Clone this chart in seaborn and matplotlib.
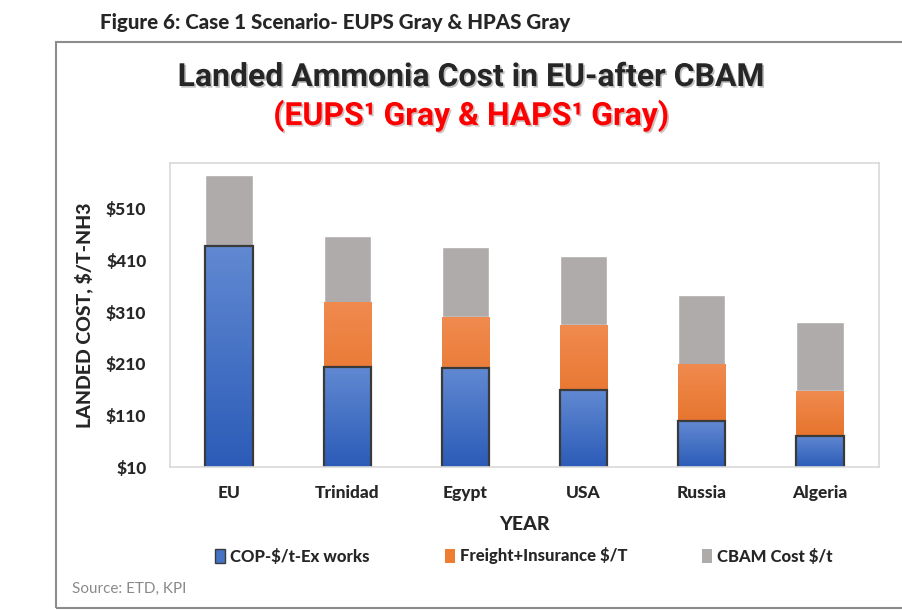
import matplotlib
matplotlib.use("Agg")
import matplotlib.pyplot as plt
import matplotlib.patheffects as pe
from matplotlib.colors import LinearSegmentedColormap, to_hex
from matplotlib.patches import Rectangle, Patch
import numpy as np
import pandas as pd
import seaborn as sns

sns.set_style("white")
plt.rcParams['font.family'] = ['Lato', 'DejaVu Sans']

countries = ['EU', 'Trinidad', 'Egypt', 'USA', 'Russia', 'Algeria']
cop = [439, 204, 202, 159, 99, 71]
freight = [0, 124, 98, 126, 109, 86]
cbam = [136, 130, 137, 133, 136, 133]

df = pd.DataFrame({'Country': countries, 'COP': cop, 'Freight': freight, 'CBAM': cbam})
df['lvl1'] = df['COP']
df['lvl2'] = df['COP'] + df['Freight']
df['lvl3'] = df['lvl2'] + df['CBAM']

blue = '#4472c4'
orange = '#ed7d31'
grey = '#afabab'
W = 900  # heavy, closer to calibri bold

fig = plt.figure(figsize=(9.02, 6.10), dpi=100)
ax = fig.add_axes([170/902, 1-467/610, 709/902, 304/610])

# stacked from the top down, each layer hides the one beneath
sns.barplot(data=df, x='Country', y='lvl3', color=grey, width=0.4, saturation=1, ax=ax)
sns.barplot(data=df, x='Country', y='lvl2', color=orange, width=0.4, saturation=1, ax=ax)
sns.barplot(data=df, x='Country', y='lvl1', color=blue, width=0.4, saturation=1, ax=ax)

ax.set_xlim(-0.5, 5.5)
ax.set_ylim(10, 599)
ybot = ax.get_ylim()[0]

# vertical gradient inside the bars, a bit like the office chart
grad = np.linspace(0, 1, 64).reshape(-1, 1)
cmaps = {
    blue: LinearSegmentedColormap.from_list('b', ['#2c5cb8', '#6189d2']),
    orange: LinearSegmentedColormap.from_list('o', ['#e06515', '#f08a4e']),
}
for p in list(ax.patches):
    fc = to_hex(p.get_facecolor())
    if fc in cmaps:
        x0, y0 = p.get_x(), max(p.get_y(), ybot)
        w, y1 = p.get_width(), p.get_y() + p.get_height()
        ax.imshow(grad, aspect='auto', origin='lower', cmap=cmaps[fc],
                  extent=[x0, x0 + w, y0, y1], zorder=p.get_zorder() + 0.1)
    if fc == blue:
        ax.add_patch(Rectangle((p.get_x(), p.get_y()), p.get_width(), p.get_height(),
                               fill=False, edgecolor='#3a3a3a', linewidth=1.6, zorder=p.get_zorder() + 0.2))
ax.set_xlim(-0.5, 5.5)
ax.set_ylim(10, 599)

ax.set_yticks([10, 110, 210, 310, 410, 510])
ax.set_yticklabels(['$10', '$110', '$210', '$310', '$410', '$510'], fontsize=12.5, fontweight=W)
ax.set_xticks(range(len(countries)))
ax.set_xticklabels(countries, fontsize=12.5, fontweight=W)
ax.tick_params(axis='y', length=0, pad=17)
ax.tick_params(axis='x', length=0, pad=13)
ax.set_xlabel('YEAR', fontsize=14, fontweight=W, labelpad=11)
ax.set_ylabel('LANDED COST, $/T-NH3', fontsize=14, fontweight=W, labelpad=9)
for s in ax.spines.values():
    s.set_color('#d9d9d9')
    s.set_linewidth(1.2)

handles = [Patch(facecolor=blue, edgecolor='#3a3a3a', linewidth=1),
           Patch(facecolor=orange, edgecolor='none'),
           Patch(facecolor=grey, edgecolor='none')]
labels = ['COP-$/t-Ex works', 'Freight+Insurance $/T', 'CBAM Cost $/t']
fig.legend(handles, labels, loc='center', bbox_to_anchor=(524/902, 1-556/610), ncol=3,
           frameon=False, prop={'weight': W, 'size': 12},
           handlelength=0.6, handleheight=0.9, handletextpad=0.3, columnspacing=4.5)

# outer chart frame
fig.add_artist(Rectangle((56/902, 2/610), 1.0, 1-44/610, transform=fig.transFigure,
                         fill=False, edgecolor='#8c8c8c', linewidth=1.5))

shadow = [pe.SimplePatchShadow(offset=(1.2, -1.2), alpha=0.25), pe.Normal()]
fig.text(472/902, 1-77/610, 'Landed Ammonia Cost in EU-after CBAM', ha='center', va='center',
         fontsize=23, fontweight='bold', family=['Roboto', 'DejaVu Sans'],
         path_effects=shadow)
fig.text(472/902, 1-116/610, '(EUPS\u00b9 Gray & HAPS\u00b9 Gray)', ha='center', va='center',
         fontsize=23, fontweight='bold', color='#ff0000', family=['Roboto', 'DejaVu Sans'],
         path_effects=shadow)
fig.text(100/902, 1-22/610, 'Figure 6: Case 1 Scenario- EUPS Gray & HPAS Gray', ha='left', va='center',
         fontsize=14.8, fontweight=W)
fig.text(72/902, 1-589/610, 'Source: ETD, KPI', ha='left', va='center', fontsize=11, color='#8a8a8a')

fig.savefig('out.png', dpi=100)
